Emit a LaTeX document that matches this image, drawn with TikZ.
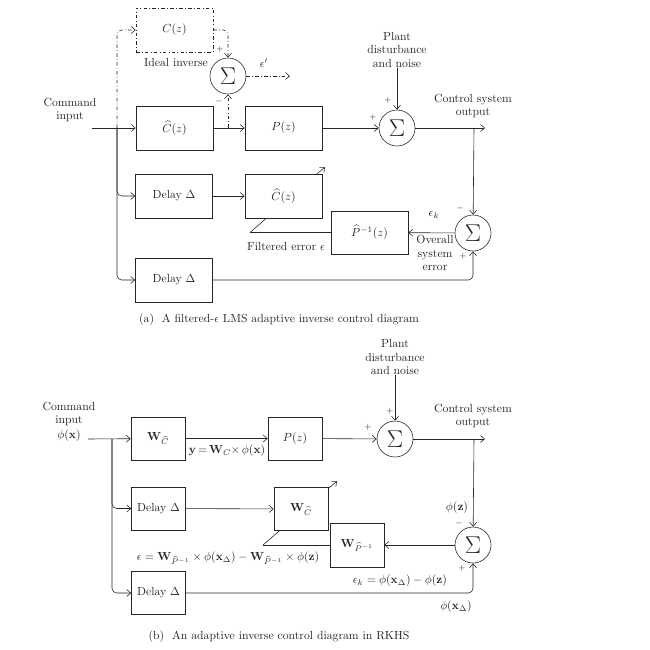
\documentclass[tikz,border=0pt]{standalone}
\usepackage{amsmath}
\usetikzlibrary{arrows.meta}
\begin{document}
\begin{tikzpicture}[x=0.03cm, y=-0.03cm, >={Straight Barb[length=3.5pt,width=6pt]}, color=black!85, line width=0.5pt,
	every node/.style={font=\fontsize{10}{11.5}\selectfont},
	block/.style={draw, fill=white, inner sep=0pt, minimum width=2.31cm, minimum height=1.32cm},
	wblock/.style={draw, fill=white, inner sep=0pt, minimum width=1.62cm, minimum height=1.3cm},
	sumnode/.style={draw, circle, fill=white, minimum size=1.08cm, inner sep=0pt, font=\huge},
	lbl/.style={align=center, inner sep=0pt},
	sgn/.style={inner sep=0pt, font=\scriptsize},
	dashdot/.style={dash pattern=on 3pt off 2pt on 0.6pt off 2pt}]
	\useasboundingbox (0,0) rectangle (649,650);
	% (a) filtered-epsilon LMS
	\coordinate (in) at (92,128);
	\coordinate (br) at (117,128);
	\coordinate (tap) at (228,128);
	\coordinate (out) at (485,128);
	\coordinate (obr) at (474,128);
	\coordinate (eo) at (290,76);
	\coordinate (fe) at (250,232.5);
	\coordinate (adtip) at (325,167);
	\draw [->] (fe) -- (adtip);
	\node [block, dashdot] (C) at (174.5,30) {$C(z)$};
	\node [sumnode] (s0) at (228,76) {$\Sigma$};
	\node [block] (Ch) at (174.5,128) {$\widehat{C}(z)$};
	\node [block] (P) at (283.5,128) {$P(z)$};
	\node [sumnode] (s1) at (397,128) {$\Sigma$};
	\node [block] (D1) at (174,196) {Delay $\Delta$};
	\node [block] (Ch2) at (283.5,196) {$\widehat{C}(z)$};
	\node [block, minimum height=1.29cm] (Pinv) at (369.5,232.5) {$\widehat{P}^{-1}(z)$};
	\node [sumnode] (s2) at (473,233) {$\Sigma$};
	\node [block] (D2) at (174,280) {Delay $\Delta$};
	\node [lbl] (cin) at (70,110) {Command\\input};
	\node [lbl] (dist) at (397,50) {Plant\\disturbance\\and noise};
	\node [lbl] (csout) at (473,106) {Control system\\output};
	\node [lbl] at (176,63) {Ideal inverse};
	\node [lbl] at (264,63) {$\epsilon'$};
	\node [lbl] at (434,215) {$\epsilon_k$};
	\node [lbl] at (435,253) {Overall\\system\\error};
	\node [lbl] at (286,246) {Filtered error $\epsilon$};
	\node [sgn] at (220,49) {$+$};
	\node [sgn] at (219,101) {$-$};
	\node [sgn] at (373,117) {$+$};
	\node [sgn] at (388,100) {$+$};
	\node [sgn] at (460,208) {$-$};
	\node [sgn] at (463,256) {$+$};
	\draw [->] (in) -- (Ch);
	\draw [->, rounded corners=4pt] (br) |- (D1);
	\draw [->, rounded corners=4pt] (br) |- (D2);
	\draw [->, dashdot, rounded corners=4pt] (br) |- (C);
	\draw [->, dashdot, rounded corners=4pt] (C) -| (s0);
	\draw [->, dashdot] (tap) -- (s0);
	\draw [->, dashdot] (s0) -- (eo);
	\draw [->] (Ch) -- (P);
	\draw [->] (P) -- (s1);
	\draw [->] (dist) -- (s1);
	\draw [->] (s1) -- (out);
	\draw [->] (obr) -- (s2);
	\draw [->] (s2) -- (Pinv);
	\draw (Pinv) -- (fe);
	\draw [->] (D1) -- (Ch2);
	\draw [->, rounded corners=4pt] (D2) -| (s2);
	\node [lbl] (capa) at (279,320) {(a)\ \ A filtered-$\epsilon$ LMS adaptive inverse control diagram};
	% (b) RKHS
	\coordinate (in2) at (88,439);
	\coordinate (br2) at (112,439);
	\coordinate (out2) at (485,439);
	\coordinate (obr2) at (474,439);
	\coordinate (fe2) at (263,545);
	\coordinate (adtip2) at (337,481);
	\draw [->] (fe2) -- (adtip2);
	\node [wblock] (W1) at (158,438.5) {$\mathbf{W}_{\widehat{C}}$};
	\node [wblock] (P2) at (295,438.5) {$P(z)$};
	\node [sumnode] (s3) at (395,439) {$\Sigma$};
	\node [wblock] (D3) at (158.5,508.5) {Delay $\Delta$};
	\node [wblock] (W2) at (301,509) {$\mathbf{W}_{\widehat{C}}$};
	\node [wblock, minimum height=1.32cm] (Wp) at (357,545) {$\mathbf{W}_{\widehat{P}{}^{-1}}$};
	\node [sumnode] (s4) at (473,545) {$\Sigma$};
	\node [wblock] (D4) at (158.5,593) {Delay $\Delta$};
	\node [lbl] (cin2) at (69,414) {Command\\input};
	\node [lbl] at (69,436) {$\phi(\mathbf{x})$};
	\node [lbl] (dist2) at (395,357) {Plant\\disturbance\\and noise};
	\node [lbl] (csout2) at (473,416) {Control system\\output};
	\node [lbl] at (227,451) {$\mathbf{y}\,{=}\,\mathbf{W}_C{\times}\,\phi(\mathbf{x})$};
	\node [lbl] at (457,508) {$\phi(\mathbf{z})$};
	\node [lbl] at (228,558) {$\epsilon=\mathbf{W}_{\widehat{P}{}^{-1}}\times\phi(\mathbf{x}_\Delta)-\mathbf{W}_{\widehat{P}{}^{-1}}\times\phi(\mathbf{z})$};
	\node [lbl] at (400,581) {$\epsilon_k=\phi(\mathbf{x}_\Delta)-\phi(\mathbf{z})$};
	\node [lbl] at (456,607) {$\phi(\mathbf{x}_\Delta)$};
	\node [sgn] at (368,427) {$+$};
	\node [sgn] at (390,411) {$+$};
	\node [sgn] at (459,523) {$-$};
	\node [sgn] at (462,568) {$+$};
	\draw [->] (in2) -- (W1);
	\draw [->, rounded corners=4pt] (br2) |- (D3);
	\draw [->, rounded corners=4pt] (br2) |- (D4);
	\draw [->] (W1) -- (P2);
	\draw [->] (P2) -- (s3);
	\draw [->] (dist2) -- (s3);
	\draw [->] (s3) -- (out2);
	\draw [->] (obr2) -- (s4);
	\draw [->] (s4) -- (Wp);
	\draw (Wp) -- (fe2);
	\draw [->] (D3) -- (W2);
	\draw [->, rounded corners=4pt] (D4) -| (s4);
	\node [lbl] (capb) at (279,637) {(b)\ \ An adaptive inverse control diagram in RKHS};
\end{tikzpicture}
\end{document}
